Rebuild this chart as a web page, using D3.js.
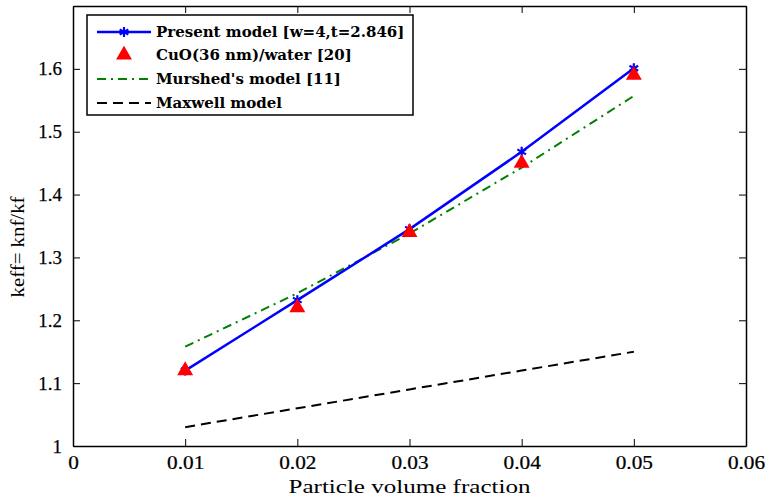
<!DOCTYPE html>
<html>
<head>
<meta charset="utf-8">
<script src="https://cdn.jsdelivr.net/npm/d3@7"></script>
<style>
  body { margin: 0; background: #fff; }
  text { font-family: "Liberation Serif", "Times New Roman", serif; }
  .tick text { font-size: 19px; stroke: #000; stroke-width: 0.25px; }
  .legend text { font-family: "DejaVu Serif", serif; font-weight: bold; font-size: 15px; }
</style>
</head>
<body>
<div id="chart"></div>
<script>
// Data.
var fractions = [0.01, 0.02, 0.03, 0.04, 0.05];
var presentModel = [1.12, 1.232, 1.345, 1.468, 1.601];
var cuoWater = [1.12, 1.22, 1.34, 1.45, 1.59];
var murshedModel = [1.158, 1.243, 1.338, 1.443, 1.557];
var maxwellModel = [1.03, 1.06, 1.09, 1.12, 1.15];
var xTicks = [0, 0.01, 0.02, 0.03, 0.04, 0.05, 0.06];
var yTicks = [1, 1.1, 1.2, 1.3, 1.4, 1.5, 1.6];
var legendLabels = ["Present model [w=4,t=2.846]", "CuO(36 nm)/water [20]", "Murshed's model [11]", "Maxwell model"];

// Setup plot and window margins.
var plotWidth = 768;
var plotHeight = 500;
var margin = ({ top: 6, right: 22, bottom: 54, left: 73 });
var width = plotWidth - margin.left - margin.right;
var height = plotHeight - margin.top - margin.bottom;

var xScale = d3.scaleLinear().domain([0, 0.06]).range([0, width]);
var yScale = d3.scaleLinear().domain([1, 1.7]).range([height, 0]);

var svg = d3.select("#chart").append("svg")
  .attr("width", plotWidth)
  .attr("height", plotHeight)
  .append("g")
  .attr("transform", "translate(" + margin.left + "," + margin.top + ")");

// Axes: MATLAB style, ticks pointing inward on all four sides.
var tickLen = 7;
svg.append("g")
  .attr("class", "x_axis")
  .attr("transform", "translate(0," + height + ")")
  .call(d3.axisBottom(xScale).tickValues(xTicks).tickFormat(d3.format("")).tickSizeInner(-tickLen).tickSizeOuter(0).tickPadding(10));
svg.append("g")
  .attr("class", "x_axis_top")
  .call(d3.axisTop(xScale).tickValues(xTicks).tickFormat("").tickSizeInner(-tickLen).tickSizeOuter(0));
svg.append("g")
  .attr("class", "y_axis")
  .call(d3.axisLeft(yScale).tickValues(yTicks).tickFormat(d3.format("")).tickSizeInner(-tickLen).tickSizeOuter(0).tickPadding(11));
svg.append("g")
  .attr("class", "y_axis_right")
  .attr("transform", "translate(" + width + ",0)")
  .call(d3.axisRight(yScale).tickValues(yTicks).tickFormat("").tickSizeInner(-tickLen).tickSizeOuter(0));

svg.selectAll(".domain").attr("stroke", "#000").attr("stroke-width", 1.5);
svg.selectAll(".tick line").attr("stroke", "#000").attr("stroke-width", 1);
svg.selectAll(".tick text").attr("fill", "#000");
// Labels in the original are a stretched bitmap serif, so widen them a little.
svg.selectAll(".x_axis .tick text").attr("transform", "scale(1.12,1)");
svg.selectAll(".y_axis .tick text").attr("dy", "0.32em");

// Axis titles.
svg.append("text")
  .attr("transform", "translate(" + (width / 2) + "," + (height + 47) + ")")
  .style("text-anchor", "middle")
  .style("font-size", "19px")
  .attr("textLength", 242)
  .attr("lengthAdjust", "spacingAndGlyphs")
  .text("Particle volume fraction");

svg.append("text")
  .attr("transform", "translate(" + (-margin.left + 24) + "," + (height / 2 + 21) + ") rotate(-90)")
  .style("text-anchor", "middle")
  .style("font-size", "19px")
  .attr("textLength", 101)
  .attr("lengthAdjust", "spacingAndGlyphs")
  .text("keff= knf/kf");

// Line generator.
var line = d3.line()
  .x(function(d) { return xScale(d[0]); })
  .y(function(d) { return yScale(d[1]); });

function pairs(values) {
  return fractions.map(function(f, i) { return [f, values[i]]; });
}

var g = svg.append("g").attr("class", "curves");

g.append("path")
  .datum(pairs(maxwellModel))
  .attr("fill", "none")
  .attr("stroke", "#000")
  .attr("stroke-width", 2)
  .attr("stroke-dasharray", "10,6")
  .attr("d", line);

g.append("path")
  .datum(pairs(murshedModel))
  .attr("fill", "none")
  .attr("stroke", "#008000")
  .attr("stroke-width", 2)
  .attr("stroke-dasharray", "9,5,2,5")
  .attr("d", line);

g.append("path")
  .datum(pairs(presentModel))
  .attr("fill", "none")
  .attr("stroke", "#0000ff")
  .attr("stroke-width", 2.5)
  .attr("d", line);

var star = d3.symbol().type(d3.symbolAsterisk).size(70);
var tri = d3.symbol().type(d3.symbolTriangle).size(110);

g.selectAll(".star")
  .data(pairs(presentModel))
  .enter().append("path")
  .attr("class", "star")
  .attr("transform", function(d) { return "translate(" + xScale(d[0]) + "," + yScale(d[1]) + ")"; })
  .attr("d", star)
  .attr("fill", "none")
  .attr("stroke", "#0000ff")
  .attr("stroke-width", 2.2);

g.selectAll(".tri")
  .data(pairs(cuoWater))
  .enter().append("path")
  .attr("class", "tri")
  .attr("transform", function(d) { return "translate(" + xScale(d[0]) + "," + yScale(d[1]) + ")"; })
  .attr("d", tri)
  .attr("fill", "#ff0000");

// Legend box.
var legend = svg.append("g")
  .attr("class", "legend")
  .attr("transform", "translate(14,9)");

legend.append("rect")
  .attr("width", 326)
  .attr("height", 100)
  .attr("fill", "#fff")
  .attr("stroke", "#000")
  .attr("stroke-width", 1.5);

var rowY = [17, 40, 64, 88];
var styles = [
  { stroke: "#0000ff", dash: null, width: 2.5 },
  { stroke: "none", dash: null, width: 0 },
  { stroke: "#008000", dash: "9,5,2,5", width: 2 },
  { stroke: "#000", dash: "10,6", width: 2 }
];

legendLabels.forEach(function(label, i) {
  var row = legend.append("g").attr("transform", "translate(0," + rowY[i] + ")");
  if (styles[i].stroke != "none") {
    row.append("line")
      .attr("x1", 10).attr("x2", 64)
      .attr("stroke", styles[i].stroke)
      .attr("stroke-width", styles[i].width)
      .attr("stroke-dasharray", styles[i].dash);
  }
  if (i == 0) {
    row.append("path").attr("transform", "translate(37,0)").attr("d", star)
      .attr("fill", "none").attr("stroke", "#0000ff").attr("stroke-width", 2.2);
  }
  if (i == 1) {
    row.append("path").attr("transform", "translate(37,0)").attr("d", tri).attr("fill", "#ff0000");
  }
  row.append("text")
    .attr("x", 69)
    .attr("dy", "0.36em")
    .text(label);
});
</script>
</body>
</html>
